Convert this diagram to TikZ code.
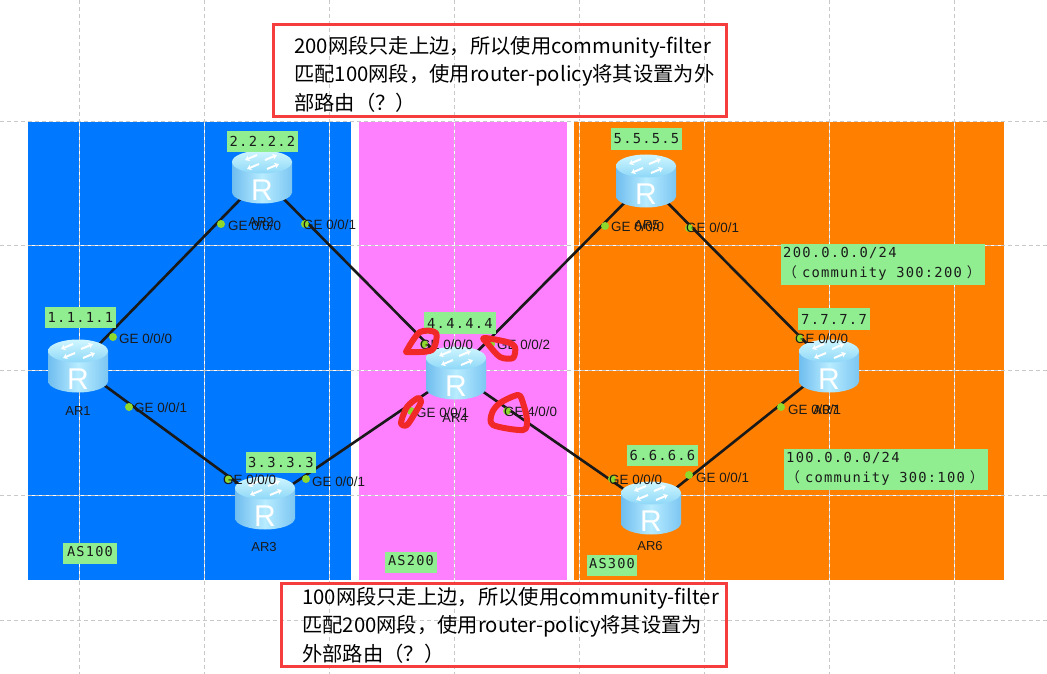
\documentclass[tikz,border=0pt]{standalone}
\usepackage{fontspec}
\setmainfont{Liberation Sans}
\newfontfamily\cjkf{Noto Sans CJK SC}
\newfontfamily\monof[LetterSpace=9]{DejaVu Sans Mono}
\usetikzlibrary{shapes.geometric,arrows.meta}
\definecolor{asblue}{HTML}{0078FF}
\definecolor{asmag}{HTML}{FF80FF}
\definecolor{asorg}{HTML}{FF8000}
\definecolor{lblgreen}{HTML}{90EE90}
\definecolor{portgreen}{HTML}{8FD82D}
\definecolor{gridgray}{HTML}{C8C8C8}
\definecolor{redbox}{HTML}{F53D3D}
\definecolor{scrib}{HTML}{F02828}
\definecolor{sideL}{HTML}{6FBDEF}
\definecolor{sideM}{HTML}{B8ECFF}
\definecolor{sideR}{HTML}{7CC6F2}
\definecolor{topA}{HTML}{D0F6FF}
\definecolor{topB}{HTML}{8ED8F8}
\definecolor{txtdark}{HTML}{1A1A1A}
\tikzset{
 x=1pt,y=-1pt,
 gridw/.style={draw=white,line width=0.8pt},
 gridd/.style={draw=gridgray,line width=0.8pt,dash pattern=on 4pt off 3pt},
 link/.style={draw=black!90,line width=2.6pt},
 routernode/.style={ellipse,minimum width=30pt,minimum height=24pt,inner sep=0pt,draw=none},
 iplabel/.style={fill=lblgreen,inner sep=0pt,font=\monof\fontsize{13.8}{18}\selectfont,text=txtdark},
 aslabel/.style={inner sep=0pt,font=\monof\fontsize{13.6}{16}\selectfont,text=txtdark},
 netlabel/.style={anchor=north west,inner sep=0pt,align=left,font=\monof\fontsize{13.8}{20}\selectfont,text=txtdark},
 portdot/.style={circle,fill=portgreen,minimum size=8pt,inner sep=0pt,draw=none},
 portlabel/.style={anchor=west,inner sep=0pt,font=\fontsize{13.4}{15}\selectfont,text=txtdark},
 namelabel/.style={inner sep=0pt,font=\fontsize{13}{15}\selectfont,text=txtdark},
 notebox/.style={draw=redbox,line width=3pt},
 notetext/.style={anchor=north west,inner sep=0pt,align=left,font=\cjkf\fontsize{20.3}{28.4}\selectfont,text=black},
 scribble/.style={draw=scrib,line width=6pt,line cap=round,line join=round},
 iconarrow/.style={white,line width=2pt,-{Stealth[length=4.5pt,width=6pt]}},
}
\newcommand{\rdraw}[2]{%
 \begin{scope}[shift={(#1,#2)}]
  \shade[left color=sideL,right color=sideR,middle color=sideM] (0,15) ellipse (30 and 11.5);
  \shade[left color=sideL,right color=sideR,middle color=sideM] (-30,-15) rectangle (30,15);
  \shade[top color=topA,bottom color=topB] (0,-15) ellipse (30 and 11.5);
  \begin{scope}[shift={(0,-15)}]
   \draw[iconarrow] (3,-2) -- (15,-7);
   \draw[iconarrow] (-3,2) -- (-15,7);
   \draw[iconarrow] (-5,-7) -- (-17,-2);
   \draw[iconarrow] (5,7) -- (17,2);
  \end{scope}
  \node[inner sep=0pt,text=white,font=\fontsize{30}{32}\selectfont] at (0,13) {R};
 \end{scope}}
\newcommand{\boxlabel}[6]{\node[iplabel,minimum width=#4pt,minimum height=#5pt] (#1) at (#2,#3) {#6};}
\begin{document}
\begin{tikzpicture}
\useasboundingbox (0,0) rectangle (1047,674);
\fill[white] (0,0) rectangle (1047,674);
% AS areas
\fill[asblue] (28,121) rectangle (351,580);
\fill[asmag] (359,121) rectangle (567,580);
\fill[asorg] (574,121) rectangle (1004,580);
% grid
\foreach \gx in {79,204,329,454,579,704,829,954}{
 \draw[gridw] (\gx,121) -- (\gx,580);
 \draw[gridd] (\gx,0) -- (\gx,674);
}
\foreach \gy in {121,245,370,495,620}{
 \ifnum\gy=620\relax\else\draw[gridw] (28,\gy) -- (1004,\gy);\fi
 \draw[gridd] (0,\gy) -- (1047,\gy);
}
% router anchors
\node[routernode] (ar1) at (78,366) {};
\node[routernode] (ar2) at (262,177) {};
\node[routernode] (ar3) at (265,503) {};
\node[routernode] (ar4) at (456,373) {};
\node[routernode] (ar5) at (646,181) {};
\node[routernode] (ar6) at (651,508) {};
\node[routernode] (ar7) at (829,366) {};
% links
\draw[link] (ar1) -- (ar2);
\draw[link] (ar2) -- (ar4);
\draw[link] (ar1) -- (ar3);
\draw[link] (ar3) -- (ar4);
\draw[link] (ar4) -- (ar5);
\draw[link] (ar4) -- (ar6);
\draw[link] (ar5) -- (ar7);
\draw[link] (ar6) -- (ar7);
% routers
\rdraw{78}{366}\rdraw{262}{177}\rdraw{265}{503}\rdraw{456}{373}\rdraw{646}{181}\rdraw{651}{508}\rdraw{829}{366}
% names
\node[namelabel] (n1) at (78,411) {AR1};
\node[namelabel] (n2) at (261,222) {AR2};
\node[namelabel] (n3) at (264,547) {AR3};
\node[namelabel] (n4) at (455,418) {AR4};
\node[namelabel] (n5) at (647,225) {AR5};
\node[namelabel] (n6) at (650,546) {AR6};
\node[namelabel] (n7) at (826,410) {AR7};
% ports
\node[portdot] (d1) at (113,337) {}; \node[portlabel] (t1) at (119,339) {GE 0/0/0};
\node[portdot] (d2) at (129,407) {}; \node[portlabel] (t2) at (134,408) {GE 0/0/1};
\node[portdot] (d3) at (221,224) {}; \node[portlabel] (t3) at (228,226) {GE 0/0/0};
\node[portdot] (d4) at (305,224) {}; \node[portlabel] (t4) at (303,225) {GE 0/0/1};
\node[portdot] (d5) at (228,479) {}; \node[portlabel] (t5) at (223,480) {GE 0/0/0};
\node[portdot] (d6) at (306,479) {}; \node[portlabel] (t6) at (312,482) {GE 0/0/1};
\node[portdot] (d7) at (424,344) {}; \node[portlabel] (t7) at (420,345) {GE 0/0/0};
\node[portdot] (d8) at (491,344) {}; \node[portlabel] (t8) at (497,345) {GE 0/0/2};
\node[portdot] (d9) at (411,411) {}; \node[portlabel] (t9) at (416,413) {GE 0/0/1};
\node[portdot] (d10) at (507,411) {}; \node[portlabel] (t10) at (504,412) {GE 4/0/0};
\node[portdot] (d11) at (605,226) {}; \node[portlabel] (t11) at (611,227) {GE 0/0/0};
\node[portdot] (d12) at (689,228) {}; \node[portlabel] (t12) at (686,228) {GE 0/0/1};
\node[portdot] (d13) at (612,479) {}; \node[portlabel] (t13) at (609,480) {GE 0/0/0};
\node[portdot] (d14) at (689,475) {}; \node[portlabel] (t14) at (696,478) {GE 0/0/1};
\node[portdot] (d15) at (799,338) {}; \node[portlabel] (t15) at (795,339) {GE 0/0/0};
\node[portdot] (d16) at (781,407) {}; \node[portlabel] (t16) at (788,410) {GE 0/0/1};
% green labels
\boxlabel{l1}{80.5}{317.5}{71}{21}{1.1.1.1}
\boxlabel{l2}{262.5}{141.5}{71}{21}{2.2.2.2}
\boxlabel{l3}{281}{462.5}{70}{21}{3.3.3.3}
\boxlabel{l4}{460}{323}{72}{22}{4.4.4.4}
\boxlabel{l5}{646.5}{139}{71}{22}{5.5.5.5}
\boxlabel{l6}{662.5}{455.5}{71}{21}{6.6.6.6}
\boxlabel{l7}{834}{319}{72}{22}{7.7.7.7}
\fill[lblgreen] (63,543) rectangle (117,564);
\node[aslabel] (as1) at (90,552) {AS100};
\fill[lblgreen] (385,552) rectangle (437,573);
\node[aslabel] (as2) at (411,561) {AS200};
\fill[lblgreen] (587,555) rectangle (637,576);
\node[aslabel] (as3) at (612,564) {AS300};
% network labels
\fill[lblgreen] (781,244) rectangle (985,285);
\node[netlabel] (net1) at (783,247) {200.0.0.0/24\\{\cjkf （}\hspace{5pt}community 300:200\hspace{5pt}{\cjkf ）}};
\fill[lblgreen] (784,449) rectangle (988,490);
\node[netlabel] (net2) at (786,452) {100.0.0.0/24\\{\cjkf （}\hspace{5pt}community 300:100\hspace{5pt}{\cjkf ）}};
% red scribbles
\draw[scribble] plot[smooth cycle] coordinates {(407,350) (420,332) (436,333) (432,350) (409,352)};
\draw[scribble] plot[smooth cycle] coordinates {(484,338) (507,342) (515,347) (513,358) (500,357) (488,344)};
\draw[scribble] plot[smooth cycle] coordinates {(418,398) (407,407) (401,423) (407,425) (415,413) (421,402)};
\draw[scribble] plot[smooth cycle] coordinates {(518,395) (500,403) (492,413) (493,425) (523,430) (527,420) (523,403)};
% notes
\draw[notebox] (273,25) rectangle (726,117);
\node[notetext] (note1) at (294,36) {200网段只走上边，所以使用community-filter\\匹配100网段，使用router-policy将其设置为外\\部路由（？）};
\draw[notebox] (281,583) rectangle (726,666);
\node[notetext] (note2) at (302,587) {100网段只走上边，所以使用community-filter\\匹配200网段，使用router-policy将其设置为\\外部路由（？）};
\end{tikzpicture}
\end{document}
